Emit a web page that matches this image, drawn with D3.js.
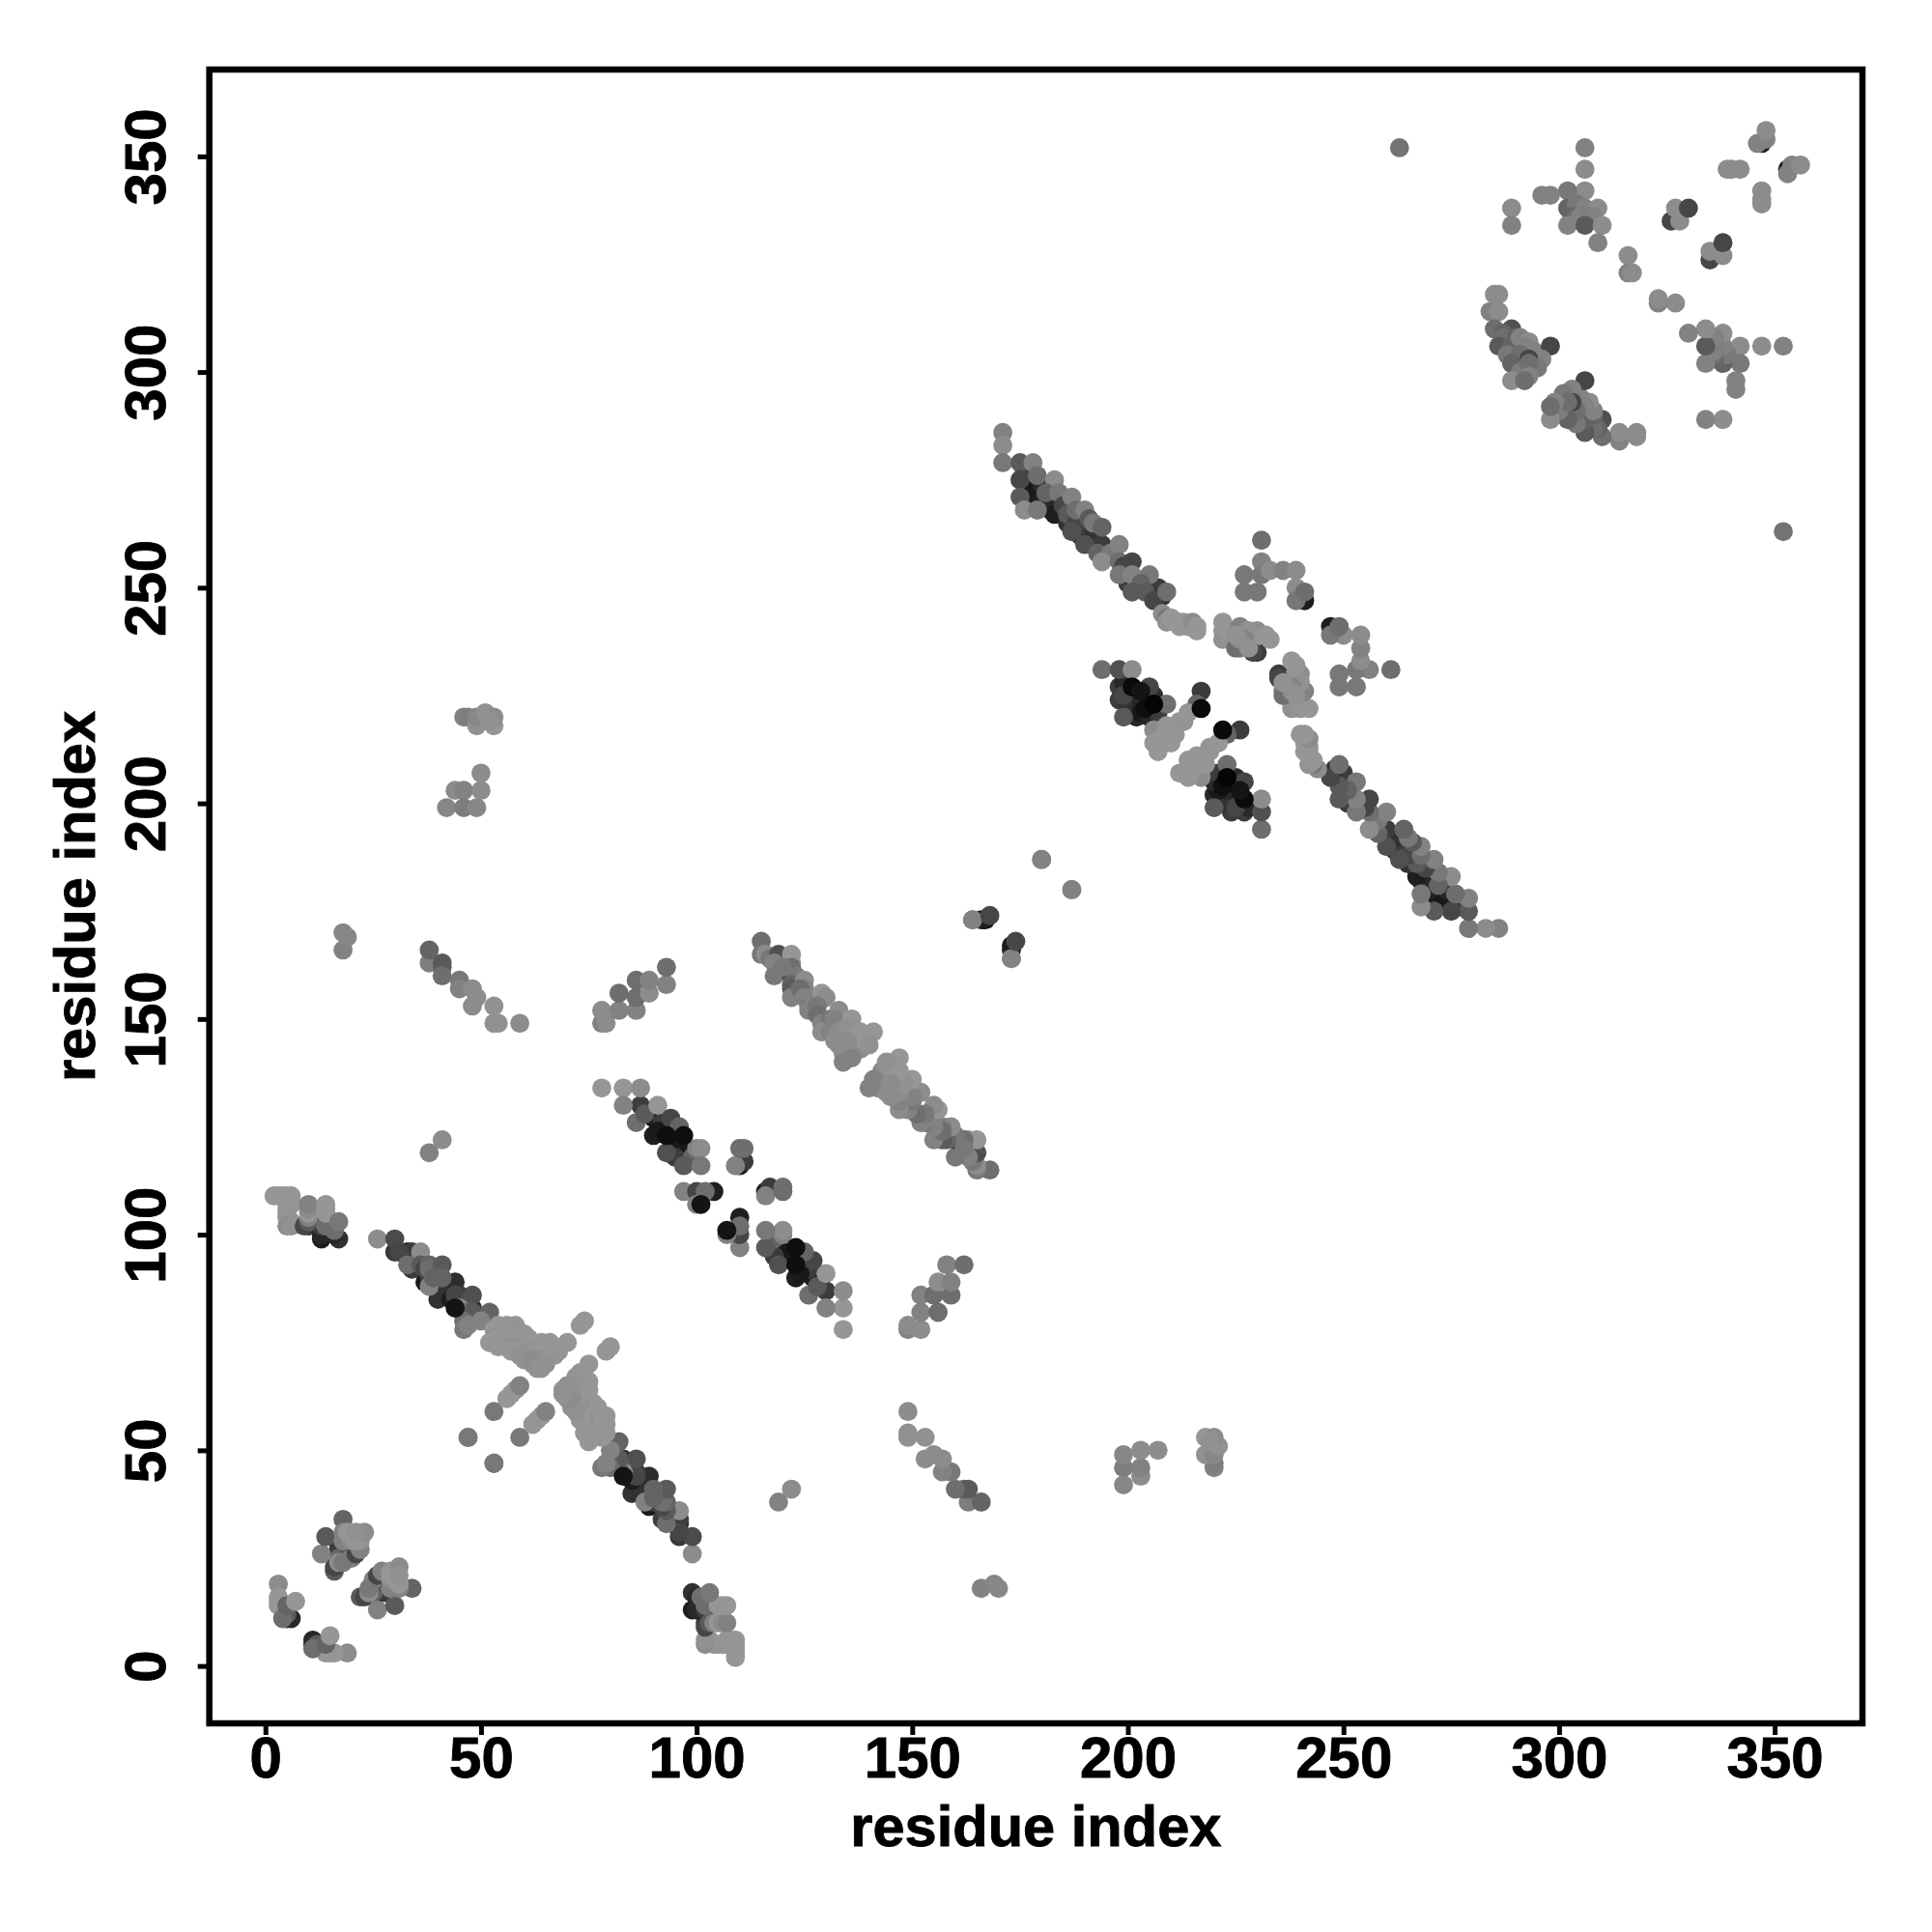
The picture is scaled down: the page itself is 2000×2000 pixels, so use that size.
<!DOCTYPE html>
<html><head><meta charset="utf-8">
<script src="https://cdn.jsdelivr.net/npm/d3@7"></script>
<style>html,body{margin:0;padding:0;background:#fff}svg{display:block}</style>
</head><body><svg id="c" width="2000" height="2000"></svg>
<script>
// Each row: residue i, residue j (i<j), grey level. The map is a symmetric contact matrix.
const nTermA=[[3,19,140],[3,16,150],[3,15,150],[3,14,150],[5,12,90],[4,11,110],[5,11,50],[6,11,40],[5,14,100],[7,15,150]];
const nTermB=[[16,22,90],[16,23,70],[17,25,100],[17,24,140],[13,26,130],[14,30,90],[18,34,100],[17,27,30],[18,27,50],[17,28,60],[19,26,50],[20,27,60],[19,28,90],[18,29,130],[18,31,130],[20,25,130],[18,24,120],[21,26,70],[22,27,130],[20,29,140],[22,29,145],[22,30,150],[19,31,150],[21,29,150],[23,31,140],[21,31,145]];
const armA1=[[2,109,150],[3,109,150],[4,109,150],[5,109,150],[6,109,150],[6,108,150],[5,107,150],[6,107,150],[5,106,148],[5,105,150],[5,104,148],[6,103,148],[5,102,140],[6,102,145],
[9,102,70],[10,102,50],[10,103,90],[10,104,130],[10,105,150],[10,106,140],[10,107,130],[13,99,30],[13,100,40],[13,103,40],[13,102,60],[14,102,110],[14,105,150],[14,106,150],[14,107,150],[16,102,40],[17,99,50],[16,100,40],[16,101,110],[17,103,120]];
const armA2=[[26,99,140],[30,99,75],[30,96,55],[31,96,70],[33,96,35],[34,96,60],[36,96,140],[33,93,110],[34,92,60],[36,93,90],[37,92,70],[38,93,100],[38,92,110],[41,93,90],[37,89,25],[38,90,60],[38,88,130],[39,90,100],[40,89,30],[41,90,100],[42,87,40],[44,89,45],[40,85,50],[41,86,50],[43,85,30],[44,86,70],[45,86,60],[48,86,80],[44,83,20],[45,83,140],[46,84,40],[48,83,45],[47,82,110],[48,82,90],[46,80,110],[46,78,120],[47,79,130],[52,82,100],[50,80,130]];
const armA3=[[54,79,150],[56,79,150],[58,79,150],[53,78,150],[55,78,148],[57,78,150],[58,78,148],[53,76,145],[52,75,150],[54,76,150],[56,76,148],[58,76,150],[60,77,150],[61,76,150],[54,74,150],[56,74,148],[58,74,145],[60,74,150],[62,75,150],[64,75,150],[66,75,150],[67,74,150],[57,73,150],[59,72,145],[61,73,145],[63,73,148],[65,73,150],[60,71,145],[62,71,140],[64,71,145],[62,70,140],[63,69,145],[70,75,150],[68,73,150],[67,72,148],[65,70,145],[64,69,145]];
const hairpin=[[47,53,120],[53,59,120],[53,47,120],[56,62,150],[57,63,150],[58,64,150],[59,65,130],[73,79,150],[74,80,150]];
const armE1=[[78,134,150],[83,134,150],[87,134,140],[83,130,130],[87,130,60],[86,126,110],[88,128,90],[91,130,150],[90,127,30],[92,126,60],[94,127,70],[90,123,30],[91,124,25],[93,123,15],[95,122,25],[97,123,15],[95,121,25],[96,125,100],[93,119,80],[97,119,25],[95,118,60],[99,118,100],[100,120,130],[101,120,140],[97,116,90],[101,116,120],[97,110,130],[100,110,70],[102,110,110],[104,110,30],[100,107,130],[101,107,20]];
const armE2=[[110,116,25],[109,116,130],[111,117,60],[110,120,110],[111,120,110]];
const armF1=[[115,168,110],[115,165,120],[116,165,140],[117,164,120],[119,165,80],[122,165,150],[118,163,130],[118,160,120],[122,163,150],[122,162,110],[122,160,70],[120,162,120],[123,160,120],[122,158,100],[122,157,90],[122,155,130],[125,159,140],[125,157,130],[124,157,110],[125,155,130],[126,153,120],[126,152,130],[127,155,130],[129,156,150],[130,155,140],[128,153,120],[128,151,110],[129,149,130],[131,150,120],[129,147,140],[131,147,130],[133,152,140],[132,150,130],[136,150,150],[133,147,140],[132,145,140],[133,144,140],[136,147,150],[135,148,145],[134,142,140],[134,140,130],[137,146,150],[138,147,150],[138,143,140],[137,143,140],[136,141,130],[141,147,150],[139,145,150],[140,144,145],[135,145,140]];
const clusterG=[[78,149,130],[79,149,140],[78,152,140],[82,152,130],[82,156,110],[86,152,130],[86,155,110],[86,159,110],[89,156,140],[89,159,130],[93,158,130],[93,162,110]];
const clusterH=[[38,163,125],[38,166,100],[41,162,100],[41,163,90],[41,160,110],[45,159,120],[45,157,130],[48,157,140],[49,155,140],[48,153,140],[53,153,145],[53,149,145],[54,149,145],[59,149,140]];
const lonePairs=[[38,119,130],[41,122,140],[18,166,130],[18,170,135],[19,169,135],[180,187,130],[187,180,130],[263,352,115],[164,173,130],[173,164,130],[167,173,25],[168,174,70],[166,173,30]];
const clusterK=[[42,199,135],[46,199,125],[49,199,135],[44,203,140],[46,203,130],[50,203,140],[50,207,140],[46,220,130],[47,220,125],[49,218,145],[49,220,135],[51,221,145],[53,218,150],[53,220,140],[52,219,145]];
const armL1=[[171,286,130],[171,283,140],[171,279,120],[175,279,90],[178,279,130],[176,277,60],[175,275,70],[177,274,30],[175,271,90],[177,270,50],[176,268,140],[178,272,25],[179,276,110],[180,274,40],[183,275,140],[180,270,35],[179,268,120],[181,272,100],[182,268,60],[183,270,40],[183,267,30],[184,272,120],[185,269,70],[187,271,130],[186,267,90],[186,265,50],[188,265,70],[188,268,110],[190,264,40],[190,268,130],[191,266,90],[187,263,80],[189,262,60],[190,260,80],[192,262,50],[192,265,120],[194,264,100],[194,260,60],[193,258,100],[196,258,120],[198,260,130],[194,256,140],[198,256,110],[201,256,70],[199,255,70],[198,253,120],[201,253,130],[205,253,120],[200,251,60],[203,251,100],[201,249,90],[204,249,90],[205,249,40],[206,247,70],[207,250,60],[208,248,50],[209,249,110],[208,244,140],[209,243,120],[209,242,145],[210,243,150],[211,242,150],[212,241,150],[212,242,150],[213,242,150],[214,241,150],[215,242,140],[216,241,150],[216,240,150]];
const armL2=[[222,240,150],[222,242,150],[222,238,145],[223,240,150],[226,240,120],[226,241,130],[226,236,120],[225,236,110],[230,235,60],[230,240,140],[232,239,150],[233,238,150],[229,238,150],[229,235,70],[228,240,145],[227,238,130],[226,238,140],[225,239,145],[228,236,145]];
const topCluster=[[231,261,110],[231,256,130],[227,253,120],[227,249,120],[230,249,120],[231,253,120],[233,254,140],[236,254,130],[239,254,140],[239,250,140],[239,247,120],[241,247,30],[241,249,110]];
const clusterM=[[194,231,110],[198,231,80],[201,231,140],[198,227,60],[199,228,40],[198,224,60],[199,225,70],[199,220,90],[201,227,10],[201,224,30],[202,220,40],[200,222,50],[203,226,20],[203,223,40],[203,221,25],[204,225,60],[204,222,15],[205,227,70],[205,220,40],[206,225,45],[207,221,60],[206,223,5],[209,223,110],[217,226,60],[217,222,10],[216,223,100],[206,217,140],[206,214,150],[207,212,150],[208,215,150],[209,218,150],[211,216,150],[212,219,150],[213,219,148],[214,221,150],[210,214,150]];
const clusterP=[[306,352,130],[306,347,140],[306,342,140],[302,342,120],[298,341,130],[296,341,130],[289,338,140],[289,334,130],[302,338,100],[304,339,120],[306,338,130],[309,338,140],[303,336,100],[304,336,110],[305,336,130],[307,336,125],[308,336,130],[302,334,130],[306,334,90],[310,334,140],[309,330,130]];
const clusterQ=[[316,327,140],[316,323,130],[317,323,140],[326,335,70],[327,338,140],[328,335,140],[330,338,70]];
const clusterS=[[346,353,130],[347,353,30],[348,354,130],[348,356,140],[339,347,140],[340,347,140],[342,347,140]];
const clusterT=[[284,314,130],[285,318,140],[286,318,140],[286,314,140],[285,310,110],[289,310,80],[287,309,100],[287,308,110],[286,306,90],[289,306,100],[288,304,120],[290,308,100],[291,308,130],[293,307,140],[292,306,130],[294,305,130],[291,304,110],[298,306,70],[296,303,130],[293,303,70],[295,301,120],[289,302,100],[291,300,125],[293,302,110],[293,299,130],[289,298,140],[292,298,110]];
const xTicks=[0,50,100,150,200,250,300,350];
const yTicks=[0,50,100,150,200,250,300,350];
const axisTitle="residue index";

const contacts=[...nTermA,...nTermB,...armA1,...armA2,...armA3,...hairpin,...armE1,...armE2,...armF1,...clusterG,...clusterH,...lonePairs,...clusterK,...armL1,...armL2,...topCluster,...clusterM,...clusterP,...clusterQ,...clusterS,...clusterT];

const frame={left:216.7,right:1928,top:72,bottom:1784};
const x=d3.scaleLinear().domain([-13,370]).range([frame.left,frame.left+383*4.464]);
const y=d3.scaleLinear().domain([-13.3,370.3]).range([frame.bottom,frame.bottom-383.6*4.465]);
const svg=d3.select("#c");
const font="'Liberation Sans',Arial,sans-serif";
const R=9.9;

const points=[];
contacts.forEach(([i,j,g])=>{points.push([i,j,g]);points.push([j,i,g]);});
const layer=g=>g<=20?2:(g<70?0:1);
const ordered=d3.sort(points,d=>layer(d[2]));
svg.append("g").selectAll("circle").data(ordered).join("circle")
 .attr("cx",d=>x(d[0])).attr("cy",d=>y(d[1])).attr("r",R)
 .attr("fill",d=>d3.rgb(d[2],d[2],d[2]).formatHex());

svg.append("rect").attr("x",frame.left).attr("y",frame.top)
 .attr("width",frame.right-frame.left).attr("height",frame.bottom-frame.top)
 .attr("fill","none").attr("stroke","#000").attr("stroke-width",6.5);

const styleText=s=>s.attr("font-family",font).attr("font-weight","bold").attr("fill","#000").attr("stroke","#000").attr("stroke-width",0.9);

const xAxis=d3.axisBottom(x).tickValues(xTicks).tickSize(12).tickPadding(0).tickFormat(d3.format("d"));
const gx=svg.append("g").attr("transform",`translate(0,${frame.bottom})`).call(xAxis);
gx.select(".domain").remove();
gx.selectAll(".tick line").attr("stroke","#000").attr("stroke-width",5);
gx.selectAll(".tick text").attr("y",56).attr("dy",0).attr("font-size",60).call(styleText);

const yAxis=d3.axisLeft(y).tickValues(yTicks).tickSize(12).tickPadding(0).tickFormat(d3.format("d"));
const gy=svg.append("g").attr("transform",`translate(${frame.left},0)`).call(yAxis);
gy.select(".domain").remove();
gy.selectAll(".tick line").attr("stroke","#000").attr("stroke-width",5);
gy.selectAll(".tick text").attr("x",0).attr("y",0).attr("dy",0).attr("text-anchor","middle")
 .attr("transform","translate(-45.5,0) rotate(-90)").attr("font-size",60).call(styleText);

svg.append("text").attr("x",(frame.left+frame.right)/2).attr("y",1911).attr("text-anchor","middle")
 .attr("font-size",59.6).call(styleText).text(axisTitle);
svg.append("text").attr("transform",`translate(98,${(frame.top+frame.bottom)/2}) rotate(-90)`).attr("text-anchor","middle")
 .attr("font-size",59.6).call(styleText).text(axisTitle);
</script></body></html>
